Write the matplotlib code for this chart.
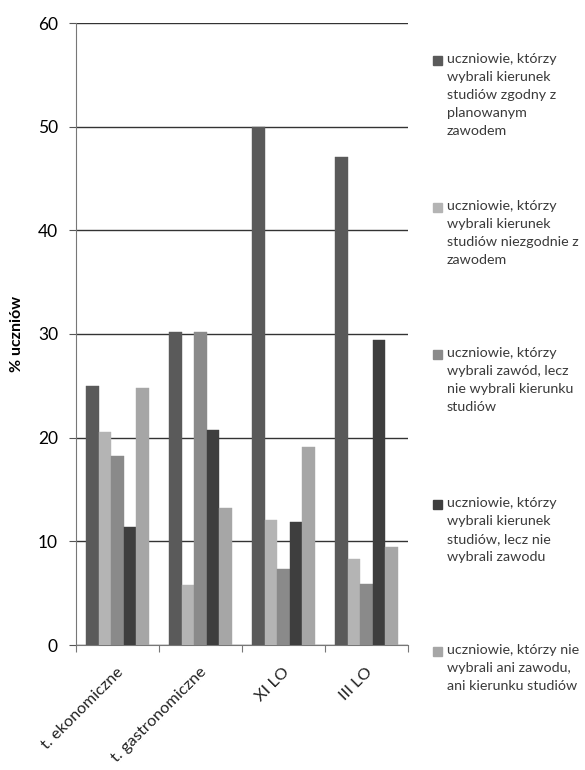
import matplotlib
matplotlib.use("Agg")
import matplotlib.pyplot as plt
import numpy as np
from matplotlib.patches import Rectangle

plt.rcParams['font.family'] = ['Lato', 'DejaVu Sans']

kategorie = ["t. ekonomiczne", "t. gastronomiczne", "XI LO", "III LO"]

zgodny = [25.0, 30.2, 50.0, 47.1]
niezgodny = [20.5, 5.8, 12.1, 8.3]
zawod_bez_studiow = [18.2, 30.2, 7.3, 5.9]
studia_bez_zawodu = [11.4, 20.7, 11.9, 29.4]
ani_ani = [24.8, 13.2, 19.1, 9.5]

etykiety = [
    "uczniowie, którzy\nwybrali kierunek\nstudiów zgodny z\nplanowanym\nzawodem",
    "uczniowie, którzy\nwybrali kierunek\nstudiów niezgodnie z\nzawodem",
    "uczniowie, którzy\nwybrali zawód, lecz\nnie wybrali kierunku\nstudiów",
    "uczniowie, którzy\nwybrali kierunek\nstudiów, lecz nie\nwybrali zawodu",
    "uczniowie, którzy nie\nwybrali ani zawodu,\nani kierunku studiów",
]

serie = [zgodny, niezgodny, zawod_bez_studiow, studia_bez_zawodu, ani_ani]
kolory = ["#5a5a5a", "#b4b4b4", "#8a8a8a", "#3e3e3e", "#a6a6a6"]

W, H = 585, 770
fig = plt.figure(figsize=(W / 100, H / 100), dpi=100)
ax = fig.add_axes([76 / W, 1 - 645 / H, (408 - 76) / W, (645 - 23) / H])

x = np.arange(len(kategorie))
szer = 0.152
for i, (s, c) in enumerate(zip(serie, kolory)):
    ax.bar(x + (i - 2) * szer, s, width=szer, color=c, edgecolor=c, linewidth=0.3, zorder=3)

ax.set_xlim(-0.5, len(kategorie) - 0.5)
ax.set_ylim(0, 60)
ax.set_yticks(range(0, 61, 10))
ax.yaxis.grid(True, color="#333333", linewidth=1.0, zorder=1)
ax.set_axisbelow(True)

for sp in ["top", "right"]:
    ax.spines[sp].set_visible(False)
ax.spines["left"].set_color("#777777")
ax.spines["bottom"].set_color("#777777")

ax.set_xticks(np.arange(-0.5, len(kategorie), 1.0))
ax.set_xticklabels([])
ax.tick_params(axis="x", length=5, color="#777777", direction="out")
ax.tick_params(axis="y", length=5, color="#555555", labelsize=12.5, pad=8)

for xi, lab in zip(x, kategorie):
    ax.annotate(lab, xy=(xi, 0), xycoords=("data", "axes fraction"),
                xytext=(4, -25), textcoords="offset pixels",
                rotation=45, ha="right", va="center", rotation_mode="anchor",
                fontsize=11.8, color="#222222")

ax.set_ylabel("% uczniów", fontsize=11.5, fontweight="bold", labelpad=10)

# legenda rysowana recznie
starty = [61, 208, 355, 505, 652]
for y0, lab, c in zip(starty, etykiety, kolory):
    fig.patches.append(Rectangle((433 / W, 1 - (y0 + 4) / H), 9 / W, 9 / H,
                                 transform=fig.transFigure, facecolor=c, edgecolor=c))
    fig.text(447 / W, 1 - (y0 - 8) / H, lab, fontsize=10.3, va="top", ha="left",
             linespacing=1.6, color="#3a3a3a")

fig.savefig("out.png", dpi=100)
